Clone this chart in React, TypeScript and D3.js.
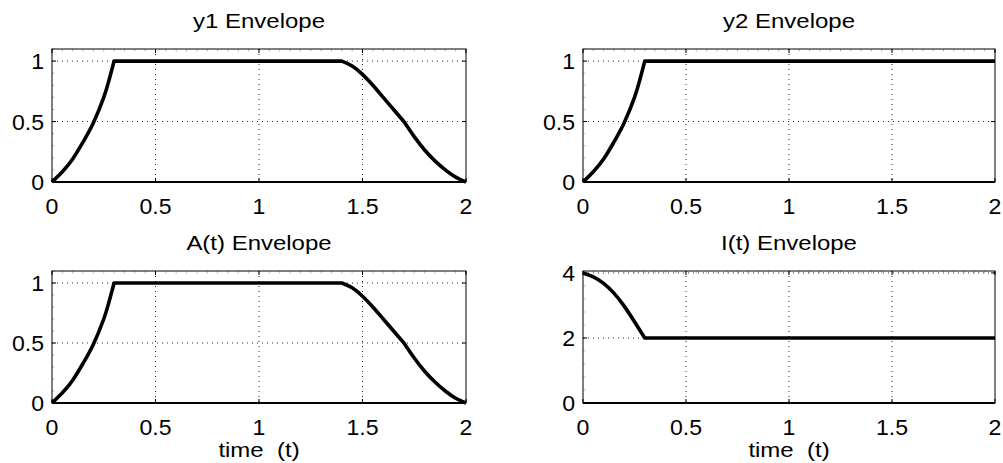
import React from 'react';
import * as d3 from 'd3';

// ---- data ----
const xTicks = [0, 0.5, 1, 1.5, 2];
const xTickLabels = ['0', '0.5', '1', '1.5', '2'];

const y1Time = [0, 0.05, 0.1, 0.15, 0.2, 0.25, 0.275, 0.3, 1.4, 1.45, 1.5, 1.55, 1.6, 1.65, 1.7, 1.75, 1.8, 1.85, 1.9, 1.95, 2];
const y1Values = [0, 0.085, 0.19, 0.33, 0.49, 0.7, 0.84, 1, 1, 0.96, 0.89, 0.8, 0.7, 0.6, 0.5, 0.375, 0.265, 0.175, 0.1, 0.04, 0];
const y1Breaks = [0.3, 1.4, 1.7];

const y2Time = [0, 0.05, 0.1, 0.15, 0.2, 0.25, 0.275, 0.3, 2];
const y2Values = [0, 0.085, 0.19, 0.33, 0.49, 0.7, 0.84, 1, 1];
const y2Breaks = [0.3];

const aTime = [0, 0.05, 0.1, 0.15, 0.2, 0.25, 0.275, 0.3, 1.4, 1.45, 1.5, 1.55, 1.6, 1.65, 1.7, 1.75, 1.8, 1.85, 1.9, 1.95, 2];
const aValues = [0, 0.085, 0.19, 0.33, 0.49, 0.7, 0.84, 1, 1, 0.96, 0.89, 0.8, 0.7, 0.6, 0.5, 0.375, 0.265, 0.175, 0.1, 0.04, 0];
const aBreaks = [0.3, 1.4, 1.7];

const iTime = [0, 0.05, 0.1, 0.15, 0.2, 0.25, 0.3, 2];
const iValues = [4, 3.88, 3.68, 3.38, 2.98, 2.5, 2, 2];
const iBreaks = [0.3];

const unitYTicks = [0, 0.5, 1];
const unitYTickLabels = ['0', '0.5', '1'];
const iYTicks = [0, 2, 4];
const iYTickLabels = ['0', '2', '4'];

const titles = ['y1 Envelope', 'y2 Envelope', 'A(t) Envelope', 'I(t) Envelope'];
const xLabel = 'time  (t)';

// ---- layout ----
const FONT = '"Liberation Sans", Arial, Helvetica, sans-serif';
const TICK_FS = 22;
const TICK_SX = 1.05;
const TITLE_FS = 20.5;
const TITLE_SX = 1.17;

type Panel = {
  title: string;
  left: number;
  top: number;
  width: number;
  height: number;
  yMax: number;
  yTicks: number[];
  yTickLabels: string[];
  yMinorStep: number;
  time: number[];
  values: number[];
  breaks: number[];
  showXLabel: boolean;
};

const panels: Panel[] = [
  { title: titles[0], left: 52, top: 49, width: 414, height: 133, yMax: 1.1, yTicks: unitYTicks, yTickLabels: unitYTickLabels, yMinorStep: 0.1, time: y1Time, values: y1Values, breaks: y1Breaks, showXLabel: false },
  { title: titles[1], left: 583, top: 49, width: 412, height: 133, yMax: 1.1, yTicks: unitYTicks, yTickLabels: unitYTickLabels, yMinorStep: 0.1, time: y2Time, values: y2Values, breaks: y2Breaks, showXLabel: false },
  { title: titles[2], left: 52, top: 271, width: 414, height: 132, yMax: 1.1, yTicks: unitYTicks, yTickLabels: unitYTickLabels, yMinorStep: 0.1, time: aTime, values: aValues, breaks: aBreaks, showXLabel: true },
  { title: titles[3], left: 583, top: 271, width: 412, height: 132, yMax: 4.06, yTicks: iYTicks, yTickLabels: iYTickLabels, yMinorStep: 0.4, time: iTime, values: iValues, breaks: iBreaks, showXLabel: true },
];

function segmentPath(time: number[], values: number[], breaks: number[], x: d3.ScaleLinear<number, number>, y: d3.ScaleLinear<number, number>): string {
  const pts = time.map((t, i) => [t, values[i]] as [number, number]);
  const cuts = [time[0], ...breaks, time[time.length - 1]];
  const line = d3.line<[number, number]>().x(d => x(d[0])).y(d => y(d[1])).curve(d3.curveNatural);
  let out = '';
  for (let k = 0; k < cuts.length - 1; k++) {
    const seg = pts.filter(p => p[0] >= cuts[k] - 1e-9 && p[0] <= cuts[k + 1] + 1e-9);
    let s = line(seg) || '';
    if (k > 0) s = s.replace(/^M/, 'L');
    out += s;
  }
  return out;
}

function PanelView({ p }: { p: Panel }) {
  const x = d3.scaleLinear().domain([0, 2]).range([p.left, p.left + p.width]);
  const y = d3.scaleLinear().domain([0, p.yMax]).range([p.top + p.height, p.top]);
  const bottom = p.top + p.height;
  const right = p.left + p.width;
  const xMinor = d3.range(0, 2.0001, 0.05);
  const yMinor = d3.range(0, p.yMax + 1e-9, p.yMinorStep);
  const path = segmentPath(p.time, p.values, p.breaks, x, y);
  return (
    <g>
      {/* grid */}
      {xTicks.filter(t => t > 0 && t < 2).map(t => (
        <line key={'gx' + t} x1={x(t)} x2={x(t)} y1={p.top} y2={bottom} stroke="#000" strokeWidth={1} strokeDasharray="1,4" opacity={0.85} />
      ))}
      {p.yTicks.filter(t => t > 0).map(t => (
        <line key={'gy' + t} x1={p.left} x2={right} y1={y(t)} y2={y(t)} stroke="#000" strokeWidth={1} strokeDasharray="1,4" opacity={0.85} />
      ))}
      {/* minor ticks (top and left) */}
      {xMinor.map((t, i) => (
        <line key={'mx' + i} x1={x(t)} x2={x(t)} y1={p.top} y2={p.top + 2.5} stroke="#aaa" strokeWidth={0.8} />
      ))}
      {yMinor.map((t, i) => (
        <line key={'my' + i} x1={p.left} x2={p.left + 2.5} y1={y(t)} y2={y(t)} stroke="#aaa" strokeWidth={0.8} />
      ))}
      {/* major ticks */}
      {xTicks.map(t => (
        <g key={'tx' + t}>
          <line x1={x(t)} x2={x(t)} y1={p.top} y2={p.top + 4} stroke="#000" strokeWidth={1} />
          <line x1={x(t)} x2={x(t)} y1={bottom} y2={bottom - 4} stroke="#000" strokeWidth={1} />
        </g>
      ))}
      {p.yTicks.map(t => (
        <g key={'ty' + t}>
          <line x1={p.left} x2={p.left + 4} y1={y(t)} y2={y(t)} stroke="#000" strokeWidth={1} />
          <line x1={right} x2={right - 4} y1={y(t)} y2={y(t)} stroke="#000" strokeWidth={1} />
        </g>
      ))}
      {/* box */}
      <rect x={p.left} y={p.top} width={p.width} height={p.height} fill="none" stroke="#000" strokeWidth={1} />
      <line x1={p.left} x2={right} y1={bottom} y2={bottom} stroke="#000" strokeWidth={2} />
      {/* data */}
      <path d={path} fill="none" stroke="#000" strokeWidth={3.6} strokeLinejoin="round" strokeLinecap="butt" />
      {/* tick labels */}
      {xTicks.map((t, i) => (
        <text key={'lx' + t} transform={`translate(${x(t)},${bottom + 31.5}) scale(${TICK_SX},1)`} textAnchor="middle" fontFamily={FONT} fontSize={TICK_FS} fill="#000">
          {xTickLabels[i]}
        </text>
      ))}
      {p.yTicks.map((t, i) => (
        <text key={'ly' + t} transform={`translate(${p.left - 8},${y(t) + 8}) scale(${TICK_SX},1)`} textAnchor="end" fontFamily={FONT} fontSize={TICK_FS} fill="#000">
          {p.yTickLabels[i]}
        </text>
      ))}
      {/* title */}
      <text transform={`translate(${(p.left + right) / 2},${p.top - 21}) scale(${TITLE_SX},1)`} textAnchor="middle" fontFamily={FONT} fontSize={TITLE_FS} fill="#000">
        {p.title}
      </text>
      {p.showXLabel && (
        <text transform={`translate(${(p.left + right) / 2},${bottom + 54}) scale(${TITLE_SX},1)`} textAnchor="middle" fontFamily={FONT} fontSize={TITLE_FS} fill="#000" style={{ whiteSpace: 'pre' }} xmlSpace="preserve">
          {xLabel}
        </text>
      )}
    </g>
  );
}

export default function App() {
  return (
    <svg width={1003} height={463} style={{ position: 'absolute', left: 0, top: 0, background: '#fff' }}>
      <rect x={0} y={0} width={1003} height={463} fill="#fff" />
      {panels.map((p, i) => (
        <PanelView key={i} p={p} />
      ))}
    </svg>
  );
}
